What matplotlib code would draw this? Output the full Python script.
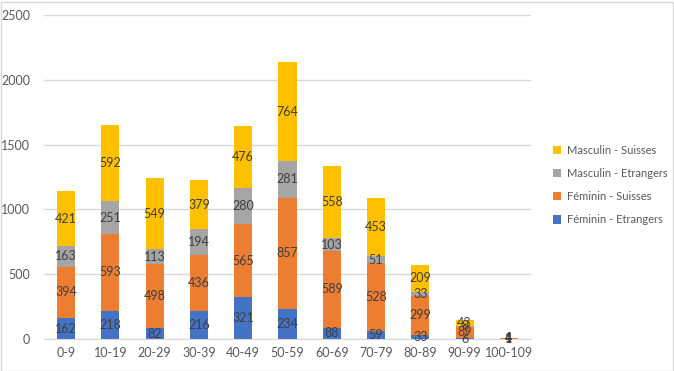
import numpy as np
import matplotlib.pyplot as plt
from matplotlib.patches import Rectangle

# tranches d'age
ages = ['0-9', '10-19', '20-29', '30-39', '40-49', '50-59', '60-69',
        '70-79', '80-89', '90-99', '100-109']

fem_etr = [162, 218, 82, 216, 321, 234, 88, 59, 33, 6, 1]
fem_sui = [394, 593, 498, 436, 565, 857, 589, 528, 299, 89, 4]
mas_etr = [163, 251, 113, 194, 280, 281, 103, 51, 33, 8, 1]
mas_sui = [421, 592, 549, 379, 476, 764, 558, 453, 209, 43, 4]

series = [('Féminin - Etrangers', fem_etr, '#4472C4'),
          ('Féminin - Suisses', fem_sui, '#ED7D31'),
          ('Masculin - Etrangers', mas_etr, '#A5A5A5'),
          ('Masculin - Suisses', mas_sui, '#FFC000')]

plt.rcParams['font.family'] = ['Lato', 'DejaVu Sans']

fig = plt.figure(figsize=(6.74, 3.71), dpi=100)
ax = fig.add_axes([44 / 674, 1 - 339 / 371, 487 / 674, 324 / 371])

x = np.arange(len(ages))
bottom = np.zeros(len(ages))
handles = []
for name, vals, col in series:
    vals = np.array(vals)
    b = ax.bar(x, vals, width=0.41, bottom=bottom, color=col, label=name, zorder=2)
    handles.append(b)
    for xi, v, bo in zip(x, vals, bottom):
        ax.text(xi, bo + v / 2, str(v), ha='center', va='center',
                fontsize=9, color='#404040', zorder=3)
    bottom = bottom + vals

ax.set_xlim(-0.5, len(ages) - 0.5)
ax.set_ylim(0, 2500)
ax.set_yticks(range(0, 2501, 500))
ax.set_xticks(x)
ax.set_xticklabels(ages)
ax.tick_params(axis='both', length=0, labelsize=9, labelcolor='#595959')
ax.tick_params(axis='y', pad=10)
ax.tick_params(axis='x', pad=6)
ax.grid(axis='y', color='#D9D9D9', linewidth=1, zorder=0)
for s in ['top', 'right', 'left']:
    ax.spines[s].set_visible(False)
ax.spines['bottom'].set_color('#D9D9D9')

leg = fig.legend(handles[::-1], [s[0] for s in series][::-1],
                 loc='center left', bbox_to_anchor=(543 / 674, 1 - 185 / 371),
                 frameon=False, fontsize=8, handlelength=0.75, handleheight=0.75,
                 labelspacing=1.1, handletextpad=0.5)
for t in leg.get_texts():
    t.set_color('#595959')

fig.patches.append(Rectangle((0.5 / 674, 0.5 / 371), 672 / 674, 369 / 371,
                             transform=fig.transFigure, fill=False,
                             edgecolor='#D9D9D9', linewidth=1))

fig.savefig('out.png', dpi=100)
